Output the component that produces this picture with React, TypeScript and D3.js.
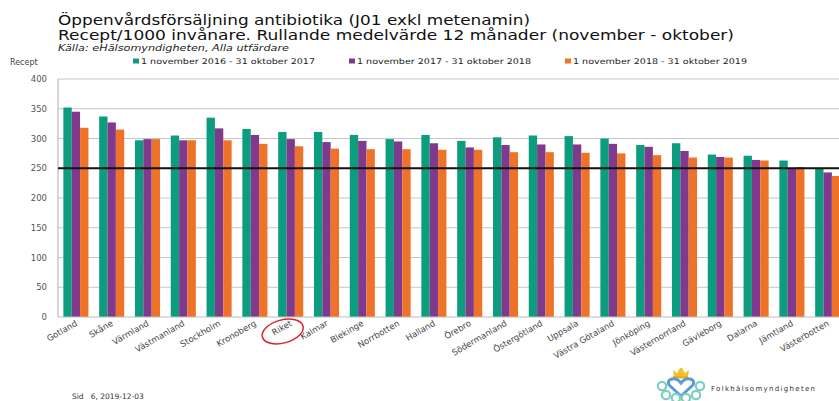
import React from "react";
import * as d3 from "d3";

const categories = [
  "Gotland", "Skåne", "Värmland", "Västmanland", "Stockholm", "Kronoberg", "Riket",
  "Kalmar", "Blekinge", "Norrbotten", "Halland", "Örebro", "Södermanland", "Östergötland",
  "Uppsala", "Västra Götaland", "Jönköping", "Västernorrland", "Gävleborg", "Dalarna",
  "Jämtland", "Västerbotten",
];
const series2017 = [352, 337, 297, 305, 335, 316, 311, 311, 306, 299, 306, 296, 302, 305, 304, 300, 289, 292, 273, 271, 263, 249];
const series2018 = [345, 327, 299, 297, 317, 306, 299, 294, 296, 295, 292, 285, 289, 290, 290, 291, 286, 279, 269, 264, 250, 243];
const series2019 = [318, 315, 299, 297, 297, 291, 287, 283, 282, 282, 281, 281, 277, 277, 276, 275, 272, 268, 268, 263, 252, 237];
const seriesNames = [
  "1 november 2016 - 31 oktober 2017",
  "1 november 2017 - 31 oktober 2018",
  "1 november 2018 - 31 oktober 2019",
];
const colors = ["#0B9D7D", "#7F3A8D", "#EF7229"];
const yTicks = [0, 50, 100, 150, 200, 250, 300, 350, 400];
const referenceValue = 250;

const W = 839;
const H = 401;
const left = 58;
const bandW = 35.8;
const top = 79;
const bottom = 317;
const font = "'DejaVu Sans', Verdana, sans-serif";

export default function App() {
  const x = d3
    .scaleBand<string>()
    .domain(categories)
    .range([left, left + bandW * categories.length])
    .paddingInner(0.3)
    .paddingOuter(0.15);
  const y = d3.scaleLinear().domain([0, 400]).range([bottom, top]);
  const inner = d3.scaleBand<number>().domain([0, 1, 2]).range([0, x.bandwidth()]);
  const all = [series2017, series2018, series2019];
  const right = W + 20;

  const legendX = [133, 349, 565];
  const riketCx = (x("Riket") as number) + x.bandwidth() / 2 - 8;

  return (
    <svg
      width={W}
      height={H}
      style={{ position: "absolute", left: 0, top: 0, background: "#fff" }}
      fontFamily={font}
    >
      <rect x={0} y={0} width={W} height={H} fill="#fff" />
      {/* titles */}
      <text x={58} y={25} fontSize={13.5} fill="#111" textLength={472} lengthAdjust="spacingAndGlyphs">
        Öppenvårdsförsäljning antibiotika (J01 exkl metenamin)
      </text>
      <text x={58} y={39.5} fontSize={13.5} fill="#111" textLength={676} lengthAdjust="spacingAndGlyphs">
        Recept/1000 invånare. Rullande medelvärde 12 månader (november - oktober)
      </text>
      <text x={58} y={50.5} fontSize={8} fontStyle="italic" fill="#222" textLength={231} lengthAdjust="spacingAndGlyphs">
        Källa: eHälsomyndigheten, Alla utfärdare
      </text>
      <text x={10} y={65} fontSize={8} fill="#444">
        Recept
      </text>
      {/* legend */}
      {seriesNames.map((n, i) => (
        <g key={n}>
          <rect x={legendX[i]} y={58.5} width={6} height={5} fill={colors[i]} />
          <text x={legendX[i] + 8} y={64} fontSize={7.8} fill="#222" textLength={174} lengthAdjust="spacingAndGlyphs">
            {n}
          </text>
        </g>
      ))}
      {/* grid */}
      {yTicks.map((t) => (
        <g key={t}>
          {t > 0 && (
            <line x1={left} x2={right} y1={y(t)} y2={y(t)} stroke="#c6c6c6" strokeWidth={1} />
          )}
          <text x={47} y={y(t) + 3} fontSize={8.5} fill="#555" textAnchor="end">
            {t}
          </text>
        </g>
      ))}
      {/* bars */}
      {categories.map((c, ci) => (
        <g key={c}>
          {all.map((s, si) => (
            <rect
              key={si}
              x={(x(c) as number) + (inner(si) as number)}
              y={y(s[ci])}
              width={inner.bandwidth()}
              height={bottom - y(s[ci])}
              fill={colors[si]}
            />
          ))}
        </g>
      ))}
      {/* axes */}
      <line x1={left} x2={left} y1={top} y2={bottom} stroke="#bdbdbd" strokeWidth={1.2} />
      <line x1={left} x2={right} y1={bottom} y2={bottom} stroke="#bdbdbd" strokeWidth={1.2} />
      <line
        x1={left}
        x2={right}
        y1={y(referenceValue)}
        y2={y(referenceValue)}
        stroke="#111"
        strokeWidth={2}
      />
      {/* x labels */}
      {categories.map((c) => {
        const cx = (x(c) as number) + x.bandwidth() / 2 + 2;
        return (
          <text
            key={c}
            transform={`translate(${cx},${325}) rotate(-30)`}
            fontSize={8.5}
            fill="#444"
            textAnchor="end"
          >
            {c}
          </text>
        );
      })}
      {/* Riket ellipse */}
      <ellipse
        cx={riketCx}
        cy={331.5}
        rx={21}
        ry={11.5}
        transform={`rotate(-15 ${riketCx} 331.5)`}
        fill="none"
        stroke="#E0202A"
        strokeWidth={1.5}
      />
      {/* footer */}
      <text x={72} y={399} fontSize={7.5} fill="#333">
        Sid&#160;&#160;&#160;6, 2019-12-03
      </text>
      {/* logo */}
      <g>
        <path d="M674,377 L673,370 L677,373 L680,368 L682,368 L685,373 L689,370 L688,377 Z" fill="#F2C12E" />
        <rect x={673} y={376} width={15} height={2.5} fill="#E8B020" />
        <path
          d="M681,396 L669,385 Q667,380 672,379 Q677,378 681,383 Q685,378 690,379 Q695,380 693,385 Z"
          fill="none"
          stroke="#5B9BD5"
          strokeWidth={3}
        />
        {[
          [662, 386],
          [666, 395],
          [676, 398],
          [686, 398],
          [696, 395],
          [700, 386],
        ].map(([cx, cy], i) => (
          <circle key={i} cx={cx} cy={cy} r={4.2} fill="none" stroke="#7CCFC0" strokeWidth={2.2} />
        ))}
        <text x={711} y={391} fontSize={7} fill="#333" textLength={104} lengthAdjust="spacing">
          Folkhälsomyndigheten
        </text>
      </g>
    </svg>
  );
}
